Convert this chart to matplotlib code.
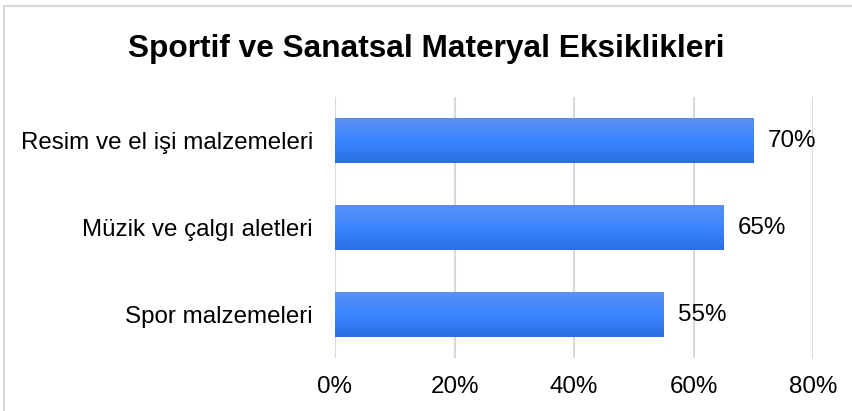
import numpy as np
import matplotlib.pyplot as plt
from matplotlib.patches import Rectangle
from matplotlib.colors import LinearSegmentedColormap

categories = ['Spor malzemeleri', 'Müzik ve çalgı aletleri', 'Resim ve el işi malzemeleri']
values = [55, 65, 70]
xticks = [0, 20, 40, 60, 80]

plt.rcParams['font.family'] = ['Liberation Sans', 'DejaVu Sans']

fig = plt.figure(figsize=(8.52, 4.11), dpi=100)
ax = fig.add_axes([335 / 852, 1 - 358 / 411, (813 - 335) / 852, (358 - 97) / 411])

# outer chart frame (right/bottom edges fall outside the image)
fig.patches.append(Rectangle((4 / 852, -0.05), 1.2, 1 - 6 / 411 + 0.05, transform=fig.transFigure,
                             fill=False, edgecolor='#D9D9D9', linewidth=1.5))

ypos = np.arange(len(categories))
bar_h = 0.51
grad = np.linspace(0, 1, 100).reshape(-1, 1)
cmap = LinearSegmentedColormap.from_list('b', ['#2A6EE3', '#3A86FF', '#5A90F5'])

bars = ax.barh(ypos, values, height=bar_h, color='none', zorder=3)
for b in bars:
    x0, y0 = b.get_x(), b.get_y()
    w, h = b.get_width(), b.get_height()
    ax.imshow(grad, cmap=cmap, aspect='auto', origin='lower',
              extent=(x0, x0 + w, y0, y0 + h), zorder=3)

for y, v in zip(ypos, values):
    ax.text(v + 2.4, y, f'{v}%', va='center', ha='left', fontsize=17.4, color='black', zorder=4)

ax.set_xlim(0, 80)
ax.set_ylim(-0.5, 2.5)
ax.set_xticks(xticks)
ax.set_xticklabels([f'{t}%' for t in xticks], fontsize=17.4)
ax.set_yticks(ypos)
ax.set_yticklabels(categories, fontsize=17.4)
ax.tick_params(length=0)
ax.tick_params(axis='x', pad=13)
ax.tick_params(axis='y', pad=16)
ax.grid(axis='x', color='#D9D9D9', linewidth=1.5, zorder=0)
ax.set_axisbelow(True)
for s in ax.spines.values():
    s.set_visible(False)

fig.text(0.5, 1 - 49 / 411, 'Sportif ve Sanatsal Materyal Eksiklikleri', ha='center', va='center',
         fontsize=22.8, fontweight='bold')

fig.savefig('out.png', dpi=100)
